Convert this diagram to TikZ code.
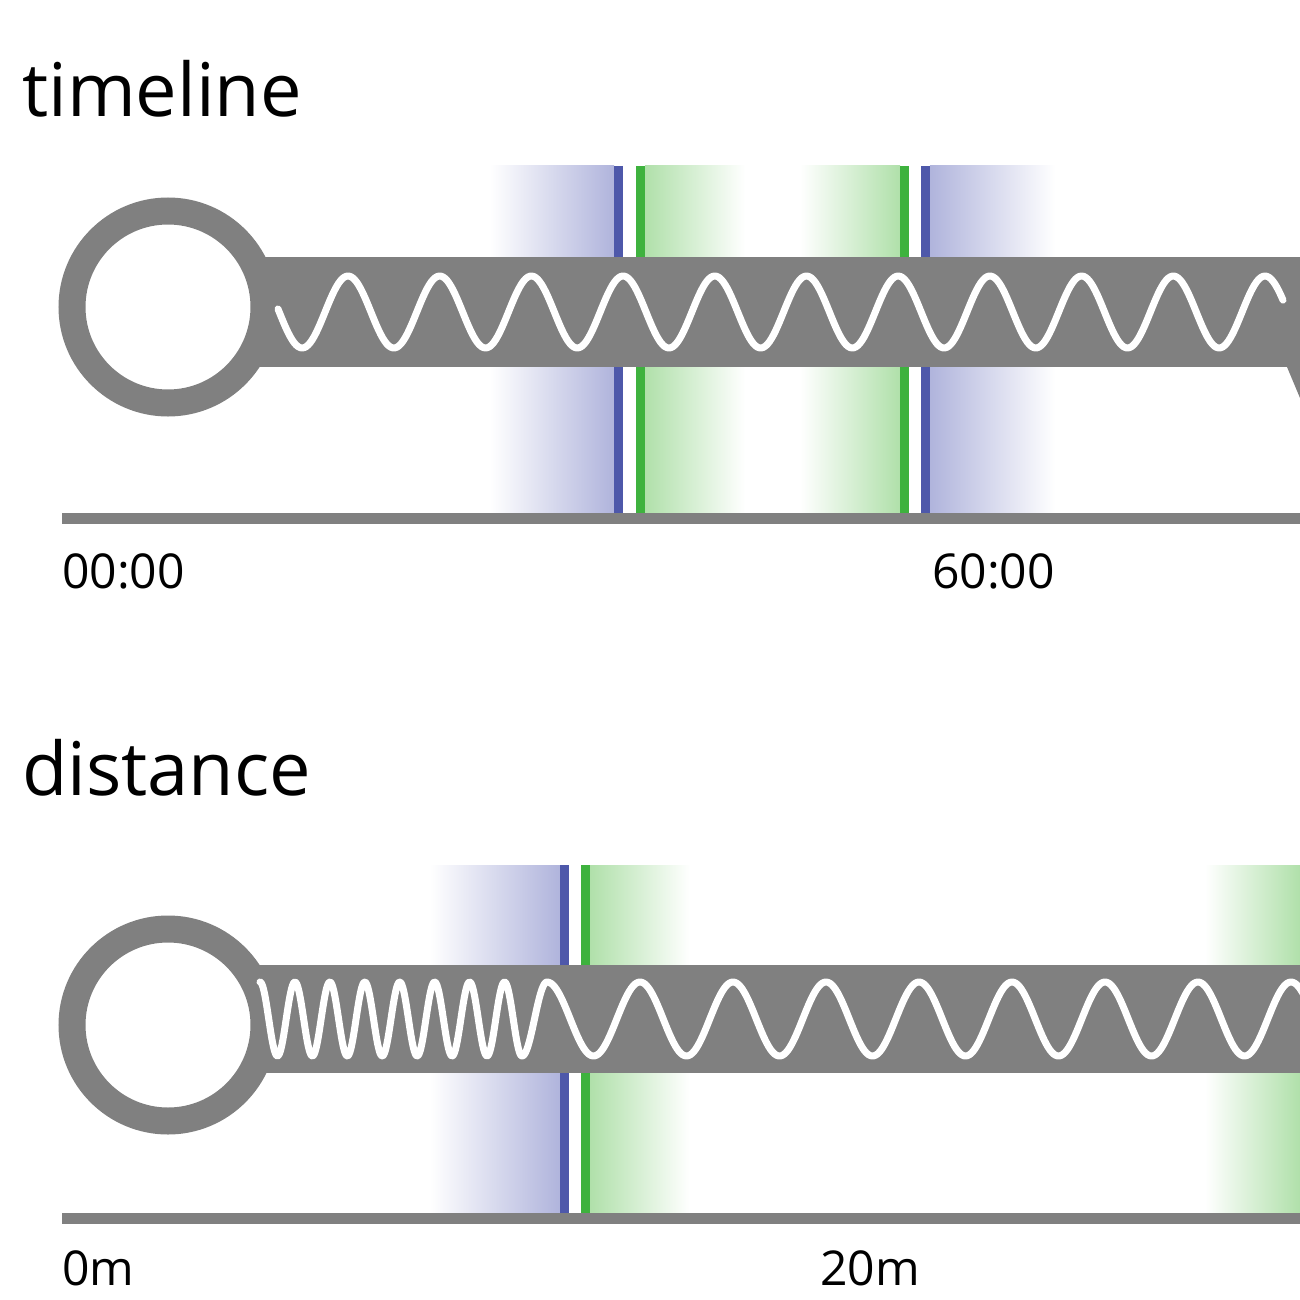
\documentclass[tikz,border=0pt]{standalone}
\usepackage{fontspec}
\setmainfont{Open Sans}
\definecolor{barGray}{RGB}{128,128,128}
\definecolor{markBlue}{RGB}{78,88,170}
\definecolor{fadeBlue}{RGB}{176,180,220}
\definecolor{markGreen}{RGB}{62,178,62}
\definecolor{fadeGreen}{RGB}{176,224,170}

\begin{document}
\begin{tikzpicture}[x=1pt,y=-1pt,
  ring/.style={draw=barGray,line width=27pt},
  axisline/.style={draw=barGray,line width=11pt},
  blueline/.style={draw=markBlue,line width=9pt},
  greenline/.style={draw=markGreen,line width=9pt},
  wave/.style={draw=white,line width=7pt,line cap=round,line join=round},
  title/.style={font=\fontsize{74}{80}\selectfont,anchor=base west,inner sep=0pt},
  ticklabel/.style={font=\fontsize{48}{52}\selectfont,anchor=base west,inner sep=0pt}]
\useasboundingbox (0,0) rectangle (1300,1300);
\clip (0,0) rectangle (1300,1300);
\shade[left color=white,right color=fadeBlue] (490,166) rectangle (614,513);
\shade[left color=fadeGreen,right color=white] (645,166) rectangle (745,513);
\shade[left color=white,right color=fadeGreen] (800,166) rectangle (900,513);
\shade[left color=fadeBlue,right color=white] (930,166) rectangle (1055,513);
\draw[blueline] (618.5,166) -- (618.5,513);
\draw[greenline] (640,166) -- (640,513);
\draw[greenline] (904.5,166) -- (904.5,513);
\draw[blueline] (925.5,166) -- (925.5,513);
\fill[barGray] (255,257) rectangle (1300,367);
\fill[barGray] (1287,367) -- (1300,367) -- (1300,398) -- cycle;
\draw[ring] (168,307) circle (96pt);
\draw[wave] plot[domain=278:1283,samples=500] (\x,{312-36*cos((\x-348)/91.7*360)});
\draw[axisline] (62,518.5) -- (1300,518.5);
\node[title] (timelineTitle) at (22,117) {timeline};
\node[ticklabel] (tStart) at (62,588) {00:00};
\node[ticklabel] (tSixty) at (932,588) {60:00};
\shade[left color=white,right color=fadeBlue] (430,865) rectangle (560,1213);
\shade[left color=fadeGreen,right color=white] (590,865) rectangle (690,1213);
\shade[left color=white,right color=fadeGreen] (1205,865) rectangle (1300,1213);
\draw[blueline] (564.5,865) -- (564.5,1213);
\draw[greenline] (585,865) -- (585,1213);
\fill[barGray] (255,965) rectangle (1300,1073);
\draw[ring] (168,1025) circle (96pt);
\draw[wave] plot[domain=260:522,samples=300] (\x,{1019-37*cos((\x-260)/34.93*360)})
  -- plot[domain=522:547,samples=30] (\x,{1019-37*cos(2700+(\x-522)/25*180)})
  -- plot[domain=547:1310,samples=400] (\x,{1019-37*cos((\x-547)/93*360)});
\draw[axisline] (62,1218) -- (1300,1218);
\node[title] (distanceTitle) at (22,795) {distance};
\node[ticklabel] (dStart) at (62,1285) {0m};
\node[ticklabel] (dTwenty) at (820,1285) {20m};
\end{tikzpicture}
\end{document}
